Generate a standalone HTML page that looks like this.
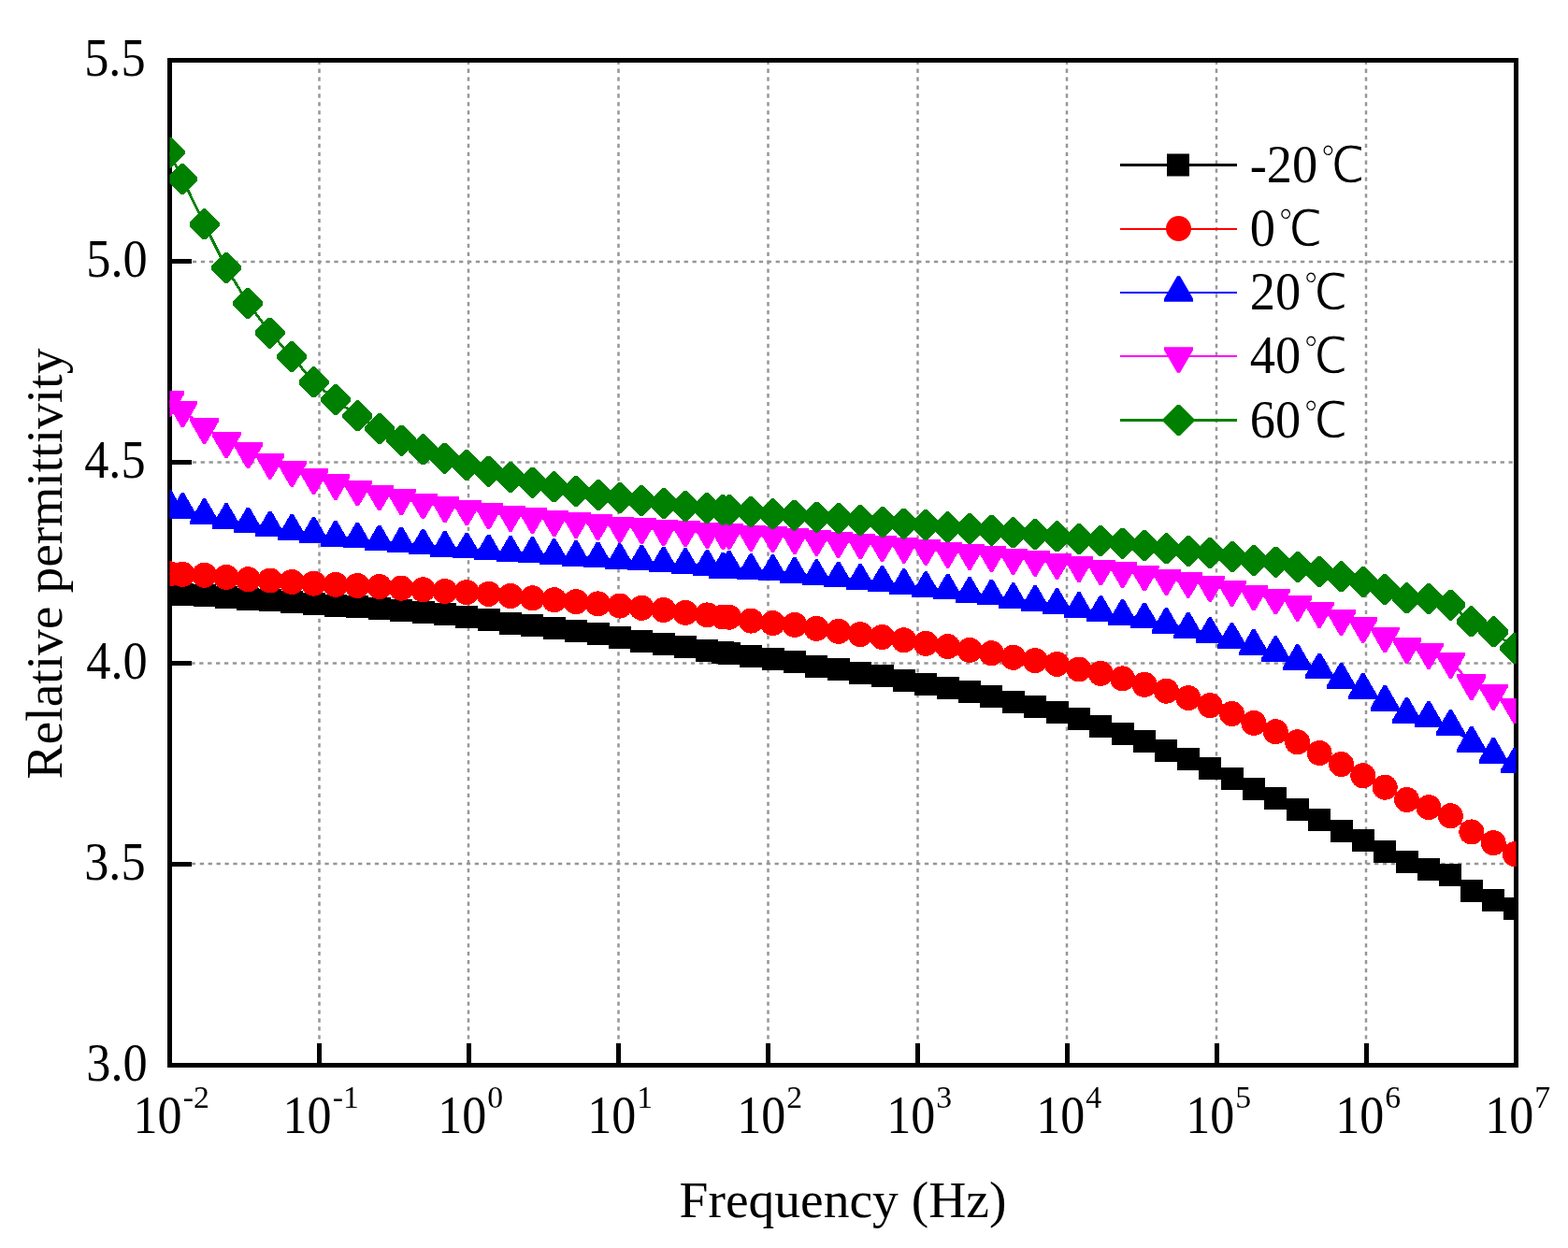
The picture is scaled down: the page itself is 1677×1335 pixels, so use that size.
<!DOCTYPE html>
<html lang="en"><head><meta charset="utf-8"><title>Relative permittivity vs frequency</title>
<style>
html,body{margin:0;padding:0;background:#fff;}
body{width:1677px;height:1335px;overflow:hidden;}
svg{display:block;}
text{font-family:"Liberation Serif","Noto Serif CJK SC",serif;fill:#000;}
.tk{font-size:57.8px;}
.sup{font-size:33.7px;}
.ttl{font-size:55.5px;}
.lg{font-size:58px;}
.dc{font-family:"Liberation Serif","WenQuanYi Zen Hei","Noto Sans CJK SC",sans-serif;font-size:54px;stroke:#fff;stroke-width:1.2px;}
.grid line{stroke:#969696;stroke-width:2.5;stroke-dasharray:4.3 4.61;}
</style></head><body>
<svg width="1677" height="1335" viewBox="0 0 1677 1335">
<defs>
<clipPath id="plot"><rect x="181.5" y="64.5" width="1440" height="1075"/></clipPath>
<marker id="sq" markerUnits="userSpaceOnUse" markerWidth="40" markerHeight="40" viewBox="-20 -20 40 40" refX="0" refY="0" orient="0" overflow="visible" shape-rendering="crispEdges" fill="#000000"><rect x="-12" y="-12" width="24" height="24"/></marker>
<marker id="ci" markerUnits="userSpaceOnUse" markerWidth="40" markerHeight="40" viewBox="-20 -20 40 40" refX="0" refY="0" orient="0" overflow="visible" shape-rendering="crispEdges" fill="#ff0000"><circle r="13.5"/></marker>
<marker id="up" markerUnits="userSpaceOnUse" markerWidth="40" markerHeight="40" viewBox="-20 -20 40 40" refX="0" refY="0" orient="0" overflow="visible" shape-rendering="crispEdges" fill="#0000ff"><polygon points="-1.5,-17.8 1.5,-17.8 15.5,6.4 15.5,9.8 -15.5,9.8 -15.5,6.4"/></marker>
<marker id="dn" markerUnits="userSpaceOnUse" markerWidth="40" markerHeight="40" viewBox="-20 -20 40 40" refX="0" refY="0" orient="0" overflow="visible" shape-rendering="crispEdges" fill="#ff00ff"><polygon points="-1.5,17.8 1.5,17.8 15.5,-6.4 15.5,-9.8 -15.5,-9.8 -15.5,-6.4"/></marker>
<marker id="di" markerUnits="userSpaceOnUse" markerWidth="40" markerHeight="40" viewBox="-20 -20 40 40" refX="0" refY="0" orient="0" overflow="visible" shape-rendering="crispEdges" fill="#008000"><polygon points="-1.5,-16.5 1.5,-16.5 16,-2 16,2 1.5,16.5 -1.5,16.5 -16,2 -16,-2"/></marker>
</defs>
<rect width="1677" height="1335" fill="#fff"/>
<g class="grid">
<line x1="341.5" y1="64.7" x2="341.5" y2="1139.5" stroke-width="2.7"/>
<line x1="501" y1="64.7" x2="501" y2="1139.5" stroke-width="2"/>
<line x1="661.5" y1="64.7" x2="661.5" y2="1139.5" stroke-width="2.7"/>
<line x1="821.5" y1="64.7" x2="821.5" y2="1139.5" stroke-width="2.7"/>
<line x1="981.5" y1="64.7" x2="981.5" y2="1139.5" stroke-width="2.7"/>
<line x1="1141" y1="64.7" x2="1141" y2="1139.5" stroke-width="2"/>
<line x1="1301" y1="64.7" x2="1301" y2="1139.5" stroke-width="2"/>
<line x1="1461" y1="64.7" x2="1461" y2="1139.5" stroke-width="2"/>
<line x1="179.2" y1="280" x2="1621.5" y2="280" stroke-width="2"/>
<line x1="179" y1="494.5" x2="1621.5" y2="494.5" stroke-width="2.7"/>
<line x1="186.5" y1="709.5" x2="1621.5" y2="709.5" stroke-width="2.7"/>
<line x1="187" y1="924" x2="1621.5" y2="924" stroke-width="2"/>
</g>
<g stroke="#000" fill="none" shape-rendering="crispEdges">
<rect x="181.5" y="64.5" width="1440" height="1075" stroke-width="5"/>
<line x1="341.5" y1="1139.5" x2="341.5" y2="1116" stroke-width="5"/>
<line x1="501.5" y1="1139.5" x2="501.5" y2="1116" stroke-width="5"/>
<line x1="661.5" y1="1139.5" x2="661.5" y2="1116" stroke-width="5"/>
<line x1="821.5" y1="1139.5" x2="821.5" y2="1116" stroke-width="5"/>
<line x1="981.5" y1="1139.5" x2="981.5" y2="1116" stroke-width="5"/>
<line x1="1141.5" y1="1139.5" x2="1141.5" y2="1116" stroke-width="5"/>
<line x1="1301.5" y1="1139.5" x2="1301.5" y2="1116" stroke-width="5"/>
<line x1="1461.5" y1="1139.5" x2="1461.5" y2="1116" stroke-width="5"/>
<line x1="181.5" y1="279.5" x2="205" y2="279.5" stroke-width="5"/>
<line x1="181.5" y1="494.5" x2="205" y2="494.5" stroke-width="5"/>
<line x1="181.5" y1="709.5" x2="205" y2="709.5" stroke-width="5"/>
<line x1="181.5" y1="924.5" x2="205" y2="924.5" stroke-width="5"/>
</g>
<g clip-path="url(#plot)" shape-rendering="crispEdges">
<polyline points="181.5,635.1 195.3,635.6 218.6,637.3 242,638.7 265.4,640.6 288.8,642.2 312.2,643.7 335.5,646 358.9,647.7 382.3,649.3 405.7,651 429.1,652.8 452.5,654.8 475.8,657.2 499.2,659.9 522.6,662.5 546,666.7 569.4,669.4 592.7,672.2 616.1,675.1 639.5,678.4 662.9,681.8 686.3,685.5 709.6,688.8 733,692.1 756.4,695.5 773.3,698.1 779.8,698.8 803.2,701.6 826.5,704.7 849.9,708.3 873.3,712.5 896.7,716 920.1,719.6 943.5,723.3 966.8,727.6 990.2,732 1013.6,736 1037,740.3 1060.4,745 1083.7,751 1107.1,756 1130.5,762 1153.9,769 1177.3,777 1200.6,785 1224,793 1247.4,802.5 1270.8,812.4 1294.2,822.1 1317.5,833.1 1340.9,844.1 1364.3,854.1 1387.7,865.9 1411.1,877.2 1434.5,888.7 1457.8,899.2 1481.2,911.1 1504.6,922.2 1528,929.6 1551.4,936.2 1573.8,953.2 1597.2,962.8 1620.2,972.2" fill="none" stroke="#000000" stroke-width="2.8" marker-start="url(#sq)" marker-mid="url(#sq)" marker-end="url(#sq)"/>
<polyline points="181.5,613.7 195.3,614.4 218.6,615.3 242,617.5 265.4,619.7 288.8,621 312.2,622.5 335.5,624.1 358.9,625.4 382.3,626.5 405.7,627.6 429.1,629.2 452.5,630.7 475.8,632.5 499.2,633.6 522.6,635.4 546,637.5 569.4,639.8 592.7,641.7 616.1,643.7 639.5,645.9 662.9,648.1 686.3,650.3 709.6,652.5 733,655.5 756.4,657.9 773.3,660 779.8,660.2 803.2,664.1 826.5,666.6 849.9,668.4 873.3,672.4 896.7,675.4 920.1,678.6 943.5,681.5 966.8,684.8 990.2,688.3 1013.6,691.6 1037,695.4 1060.4,698.7 1083.7,703.3 1107.1,706.6 1130.5,710.4 1153.9,716 1177.3,720.4 1200.6,725.9 1224,732.3 1247.4,739.2 1270.8,746.6 1294.2,754.7 1317.5,763.5 1340.9,773.4 1364.3,782.7 1387.7,793.8 1411.1,805.5 1434.5,817.5 1457.8,829.8 1481.2,842.2 1504.6,855.5 1528,863.7 1551.4,872.7 1573.8,889.9 1597.2,901.7 1620.2,913.7" fill="none" stroke="#ff0000" stroke-width="2.8" marker-start="url(#ci)" marker-mid="url(#ci)" marker-end="url(#ci)"/>
<polyline points="181.5,541.6 195.3,545 218.6,551.2 242,556.2 265.4,560.5 288.8,564.4 312.2,567.7 335.5,570.9 358.9,574.8 382.3,576.6 405.7,579.4 429.1,581.4 452.5,583.6 475.8,585.9 499.2,587.6 522.6,589.4 546,591.1 569.4,592.2 592.7,594.1 616.1,596 639.5,597.4 662.9,599.2 686.3,600.6 709.6,602.6 733,604 756.4,605.7 773.3,608.8 779.8,606.8 803.2,610 826.5,611.1 849.9,613.8 873.3,616.2 896.7,618.5 920.1,620.9 943.5,622.8 966.8,626.1 990.2,629 1013.6,631.6 1037,635 1060.4,637.5 1083.7,641.3 1107.1,643.8 1130.5,647.1 1153.9,651.1 1177.3,654.9 1200.6,658.8 1224,662.4 1247.4,667.9 1270.8,672.7 1294.2,678.2 1317.5,683.8 1340.9,690.8 1364.3,698.1 1387.7,707 1411.1,716.5 1434.5,726.9 1457.8,737.9 1481.2,750.7 1504.6,763.8 1528,767.8 1551.4,777 1573.8,794.7 1597.2,806.9 1620.2,817.5" fill="none" stroke="#0000ff" stroke-width="2.8" marker-start="url(#up)" marker-mid="url(#up)" marker-end="url(#up)"/>
<polyline points="181.5,428.3 195.3,439.2 218.6,457.1 242,472.3 265.4,483.3 288.8,494.8 312.2,503 335.5,511.2 358.9,517 382.3,523.6 405.7,528.5 429.1,533.3 452.5,537.5 475.8,541.3 499.2,544.4 522.6,548.2 546,550.8 569.4,553 592.7,556.3 616.1,558 639.5,560.3 662.9,562.9 686.3,564.2 709.6,566.2 733,567.3 756.4,569.1 773.3,570 779.8,570 803.2,572 826.5,573.2 849.9,575 873.3,576.8 896.7,578.9 920.1,580.4 943.5,583.2 966.8,584.8 990.2,587 1013.6,589.7 1037,591.9 1060.4,594.1 1083.7,596.9 1107.1,598.7 1130.5,602 1153.9,605.1 1177.3,608.4 1200.6,610.9 1224,614.6 1247.4,619 1270.8,621.8 1294.2,626 1317.5,630.7 1340.9,635.4 1364.3,639.6 1387.7,646.8 1411.1,653.9 1434.5,662.1 1457.8,670 1481.2,680.5 1504.6,692 1528,698 1551.4,707.8 1573.8,731.3 1597.2,741.8 1620.2,756.6" fill="none" stroke="#ff00ff" stroke-width="2.8" marker-start="url(#dn)" marker-mid="url(#dn)" marker-end="url(#dn)"/>
<polyline points="181.5,163.3 195.3,191.7 218.6,239.8 242,286.4 265.4,324.5 288.8,356 312.2,381.3 335.5,408.7 358.9,427.9 382.3,444.9 405.7,458.6 429.1,471 452.5,480.9 475.8,490.2 499.2,497.5 522.6,504.1 546,510.5 569.4,516 592.7,520.9 616.1,525.7 639.5,529.5 662.9,532.6 686.3,535.6 709.6,538.6 733,541.5 756.4,543.6 773.3,545.4 779.8,545.4 803.2,547.5 826.5,549.6 849.9,551.1 873.3,553 896.7,554.7 920.1,556.5 943.5,558.5 966.8,560.1 990.2,561.8 1013.6,563.8 1037,565.8 1060.4,567.1 1083.7,569.9 1107.1,571.7 1130.5,573.9 1153.9,576.8 1177.3,578.6 1200.6,581.1 1224,583.9 1247.4,586.8 1270.8,589.5 1294.2,591.7 1317.5,595.5 1340.9,599.5 1364.3,601.3 1387.7,606.6 1411.1,611.5 1434.5,616.8 1457.8,622.6 1481.2,630.4 1504.6,639.7 1528,640.4 1551.4,647.2 1573.8,664.9 1597.2,675.9 1620.2,693.4" fill="none" stroke="#008000" stroke-width="2.8" marker-start="url(#di)" marker-mid="url(#di)" marker-end="url(#di)"/>
</g>
<g>
<line x1="1198" y1="176.5" x2="1323" y2="176.5" stroke="#000000" stroke-width="3"/>
<g transform="translate(1260,176.5)" fill="#000000"><rect x="-12" y="-12" width="24" height="24"/></g>
<text class="lg" transform="translate(1336.7,194.8) scale(0.938,1)">-20<tspan class="dc" dx="3.5">℃</tspan></text>
<line x1="1198" y1="245" x2="1323" y2="245" stroke="#ff0000" stroke-width="2"/>
<g transform="translate(1260.5,244.5)" fill="#ff0000"><circle r="13.5"/></g>
<text class="lg" transform="translate(1336.7,262.8) scale(0.938,1)">0<tspan class="dc" dx="3.5">℃</tspan></text>
<line x1="1198" y1="313" x2="1323" y2="313" stroke="#0000ff" stroke-width="2"/>
<g transform="translate(1260.5,313)" fill="#0000ff"><polygon points="-1.5,-17.8 1.5,-17.8 15.5,6.4 15.5,9.8 -15.5,9.8 -15.5,6.4"/></g>
<text class="lg" transform="translate(1336.7,331.3) scale(0.938,1)">20<tspan class="dc" dx="3.5">℃</tspan></text>
<line x1="1198" y1="381" x2="1323" y2="381" stroke="#ff00ff" stroke-width="2"/>
<g transform="translate(1260.5,381)" fill="#ff00ff"><polygon points="-1.5,17.8 1.5,17.8 15.5,-6.4 15.5,-9.8 -15.5,-9.8 -15.5,-6.4"/></g>
<text class="lg" transform="translate(1336.7,399.3) scale(0.938,1)">40<tspan class="dc" dx="3.5">℃</tspan></text>
<line x1="1198" y1="449.5" x2="1323" y2="449.5" stroke="#008000" stroke-width="3"/>
<g transform="translate(1260.5,449.5)" fill="#008000"><polygon points="-1.5,-16.5 1.5,-16.5 16,-2 16,2 1.5,16.5 -1.5,16.5 -16,2 -16,-2"/></g>
<text class="lg" transform="translate(1336.7,467.8) scale(0.938,1)">60<tspan class="dc" dx="3.5">℃</tspan></text>
</g>
<g class="tk">
<text transform="translate(155.65,81) scale(0.906,1)" text-anchor="end">5.5</text>
<text transform="translate(157.8,296) scale(0.906,1)" text-anchor="end">5.0</text>
<text transform="translate(155.65,511) scale(0.906,1)" text-anchor="end">4.5</text>
<text transform="translate(157.8,726) scale(0.906,1)" text-anchor="end">4.0</text>
<text transform="translate(155.65,941) scale(0.906,1)" text-anchor="end">3.5</text>
<text transform="translate(157.8,1156) scale(0.906,1)" text-anchor="end">3.0</text>
<text transform="translate(142.5,1211.9) scale(0.9,1)">10</text>
<text class="sup" x="195.7" y="1185">-2</text>
<text transform="translate(302.5,1211.9) scale(0.9,1)">10</text>
<text class="sup" x="355.7" y="1185">-1</text>
<text transform="translate(468.25,1211.9) scale(0.9,1)">10</text>
<text class="sup" x="521.15" y="1185">0</text>
<text transform="translate(628.25,1211.9) scale(0.9,1)">10</text>
<text class="sup" x="681.15" y="1185">1</text>
<text transform="translate(788.25,1211.9) scale(0.9,1)">10</text>
<text class="sup" x="841.15" y="1185">2</text>
<text transform="translate(948.25,1211.9) scale(0.9,1)">10</text>
<text class="sup" x="1001.15" y="1185">3</text>
<text transform="translate(1108.25,1211.9) scale(0.9,1)">10</text>
<text class="sup" x="1161.15" y="1185">4</text>
<text transform="translate(1268.25,1211.9) scale(0.9,1)">10</text>
<text class="sup" x="1321.15" y="1185">5</text>
<text transform="translate(1428.25,1211.9) scale(0.9,1)">10</text>
<text class="sup" x="1481.15" y="1185">6</text>
<text transform="translate(1588.25,1211.9) scale(0.9,1)">10</text>
<text class="sup" x="1641.15" y="1185">7</text>
</g>
<text class="ttl" x="901.5" y="1302.4" text-anchor="middle">Frequency (Hz)</text>
<text class="ttl" transform="translate(66,603) rotate(-90)" text-anchor="middle">Relative permittivity</text>
</svg>
</body></html>
